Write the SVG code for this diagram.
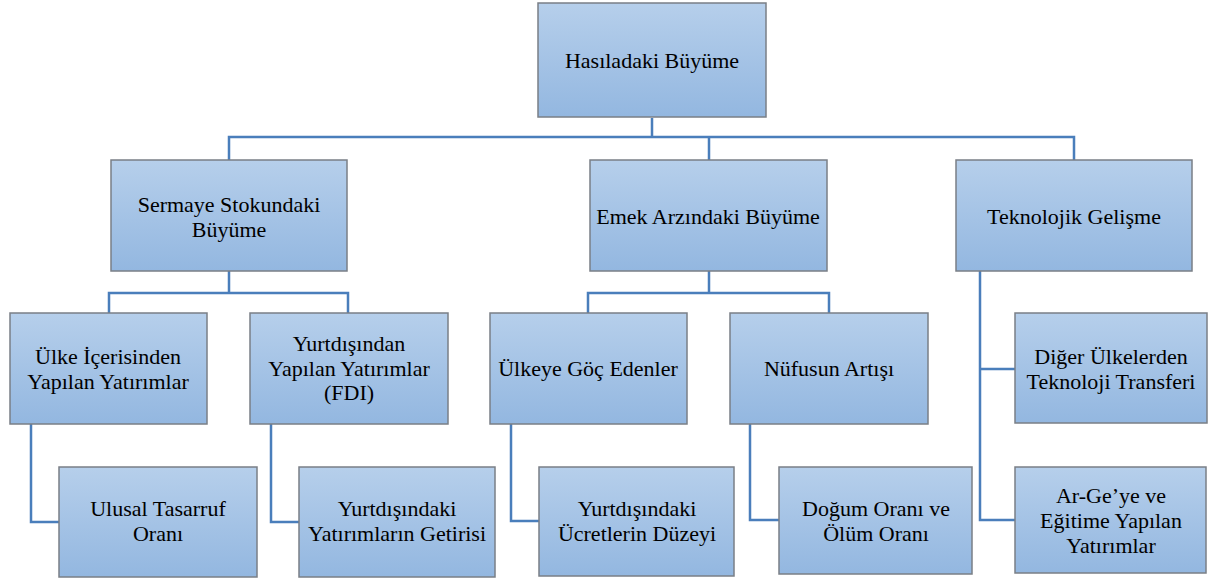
<svg xmlns="http://www.w3.org/2000/svg" width="1208" height="580" viewBox="0 0 1208 580">
<defs>
<linearGradient id="g" x1="0" y1="0" x2="0" y2="1">
<stop offset="0" stop-color="#b6cfeb"/>
<stop offset="1" stop-color="#93b7e0"/>
</linearGradient>
</defs>
<style>
.b{fill:url(#g);stroke:#7a7f86;stroke-width:1.5}
.t{font-size:22px;fill:#000;text-anchor:middle}
.c{fill:none;stroke:#4a7ebb;stroke-width:2.5}
</style>
<rect width="1208" height="580" fill="#fff"/>
<g id="connectors">
<path class="c" d="M652 118V137M229 160V137H1074V160M709 137V160"/>
<path class="c" d="M229 271V293M109 313V293H348V313"/>
<path class="c" d="M709 271V293M588 313V293H829V313"/>
<path class="c" d="M31 424V522H59"/>
<path class="c" d="M271 424V522H299"/>
<path class="c" d="M511 424V521H539"/>
<path class="c" d="M750 424V520H779"/>
<path class="c" d="M980 271V520H1015M980 369H1015"/>
</g>
<g font-family="Liberation Serif, serif">
<g id="n-hasila">
<rect class="b" x="538" y="3" width="228" height="114"/>
<text class="t" x="652" y="68">Hasıladaki Büyüme</text>
</g>
<g id="n-sermaye">
<rect class="b" x="111" y="160" width="236" height="111"/>
<text class="t" x="229" y="212">Sermaye Stokundaki</text>
<text class="t" x="229" y="237">Büyüme</text>
</g>
<g id="n-emek">
<rect class="b" x="590" y="160" width="237" height="111"/>
<text class="t" x="708" y="224">Emek Arzındaki Büyüme</text>
</g>
<g id="n-teknoloji">
<rect class="b" x="956" y="160" width="236" height="111"/>
<text class="t" x="1074" y="224">Teknolojik Gelişme</text>
</g>
<g id="n-ulke">
<rect class="b" x="10" y="313" width="197" height="111"/>
<text class="t" x="108" y="364">Ülke İçerisinden</text>
<text class="t" x="108" y="389">Yapılan Yatırımlar</text>
</g>
<g id="n-yurtdisindan">
<rect class="b" x="250" y="313" width="198" height="111"/>
<text class="t" x="349" y="351">Yurtdışından</text>
<text class="t" x="349" y="376">Yapılan Yatırımlar</text>
<text class="t" x="349" y="400">(FDI)</text>
</g>
<g id="n-goc">
<rect class="b" x="490" y="313" width="197" height="111"/>
<text class="t" x="588" y="376">Ülkeye Göç Edenler</text>
</g>
<g id="n-nufus">
<rect class="b" x="730" y="313" width="198" height="111"/>
<text class="t" x="829" y="376">Nüfusun Artışı</text>
</g>
<g id="n-diger">
<rect class="b" x="1015" y="313" width="192" height="110"/>
<text class="t" x="1111" y="364">Diğer Ülkelerden</text>
<text class="t" x="1111" y="389">Teknoloji Transferi</text>
</g>
<g id="n-tasarruf">
<rect class="b" x="59" y="467" width="198" height="110"/>
<text class="t" x="158" y="516">Ulusal Tasarruf</text>
<text class="t" x="158" y="541">Oranı</text>
</g>
<g id="n-getiri">
<rect class="b" x="299" y="467" width="196" height="110"/>
<text class="t" x="397" y="516">Yurtdışındaki</text>
<text class="t" x="397" y="541">Yatırımların Getirisi</text>
</g>
<g id="n-ucret">
<rect class="b" x="539" y="467" width="195" height="109"/>
<text class="t" x="637" y="516">Yurtdışındaki</text>
<text class="t" x="637" y="541">Ücretlerin Düzeyi</text>
</g>
<g id="n-dogum">
<rect class="b" x="779" y="467" width="193" height="107"/>
<text class="t" x="876" y="516">Doğum Oranı ve</text>
<text class="t" x="876" y="541">Ölüm Oranı</text>
</g>
<g id="n-arge">
<rect class="b" x="1015" y="467" width="191" height="106"/>
<text class="t" x="1111" y="503">Ar-Ge’ye ve</text>
<text class="t" x="1111" y="528">Eğitime Yapılan</text>
<text class="t" x="1111" y="553">Yatırımlar</text>
</g>
</g>
</svg>
